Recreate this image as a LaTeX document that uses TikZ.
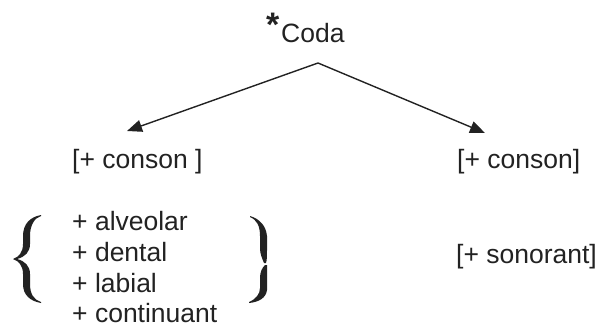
\documentclass[tikz,border=0pt]{standalone}
\usepackage{fontspec}
\setmainfont{Liberation Sans}
\usetikzlibrary{arrows.meta}
\definecolor{ink}{HTML}{222222}
\begin{document}
\begin{tikzpicture}[x=1pt,y=-1pt,
  lbl/.style={inner sep=0pt,anchor=base west,text=ink,font=\fontsize{26.5}{30}\selectfont},
  arr/.style={draw=ink,line width=1.4pt,-{Triangle[length=15pt,width=12pt]}},
  brace/.style={fill=ink,draw=none}]
\useasboundingbox (0,0) rectangle (600,327);

% root
\node[lbl,font=\fontsize{34}{34}\selectfont\bfseries] (star) at (266,36) {*};
\node[lbl] (coda) at (281,42) {Coda};

% branch ends
\coordinate (apex) at (318,63);
\coordinate (ltip) at (127,131);
\coordinate (rtip) at (485,133);
\draw[arr] (apex) -- (ltip);
\draw[arr] (apex) -- (rtip);

% left branch
\node[lbl] (lcons) at (72,168) {[+ conson ]};
\node[lbl] (f1) at (72,230) {+ alveolar};
\node[lbl] (f2) at (72,261) {+ dental};
\node[lbl] (f3) at (72,292) {+ labial};
\node[lbl] (f4) at (72,322) {+ continuant};

% right branch
\node[lbl] (rcons) at (457,168) {[+ conson]};
\node[lbl] (rson) at (456,263) {[+ sonorant]};

% left brace
\path[brace] (41,215) .. controls (30,217) and (23,224) .. (23,236) -- (23,244)
  .. controls (23,252) and (19,257) .. (13,259)
  .. controls (19,261) and (23,266) .. (23,274) -- (23,284)
  .. controls (23,295) and (30,301) .. (41,303)
  -- (41,302) .. controls (34,300) and (30,294) .. (30,284) -- (30,274)
  .. controls (30,266) and (25,261) .. (17,259)
  .. controls (25,257) and (30,252) .. (30,244) -- (30,236)
  .. controls (30,226) and (34,218) .. (41,216) -- cycle;

% right brace, upper piece
\path[brace] (250,216) .. controls (260,219) and (266,226) .. (267,236) -- (267,250)
  .. controls (267,256) and (267,260) .. (266,263) -- (264,263)
  .. controls (262,258) and (260,254) .. (260,248) -- (260,236)
  .. controls (260,226) and (257,220) .. (250,217) -- cycle;
% right brace, lower piece
\path[brace] (267,265) .. controls (267,268) and (267,272) .. (267,278) -- (267,290)
  .. controls (266,298) and (259,302) .. (249,303) -- (249,302)
  .. controls (256,299) and (260,294) .. (260,288) -- (260,278)
  .. controls (260,272) and (262,268) .. (265,265) -- cycle;
\end{tikzpicture}
\end{document}
